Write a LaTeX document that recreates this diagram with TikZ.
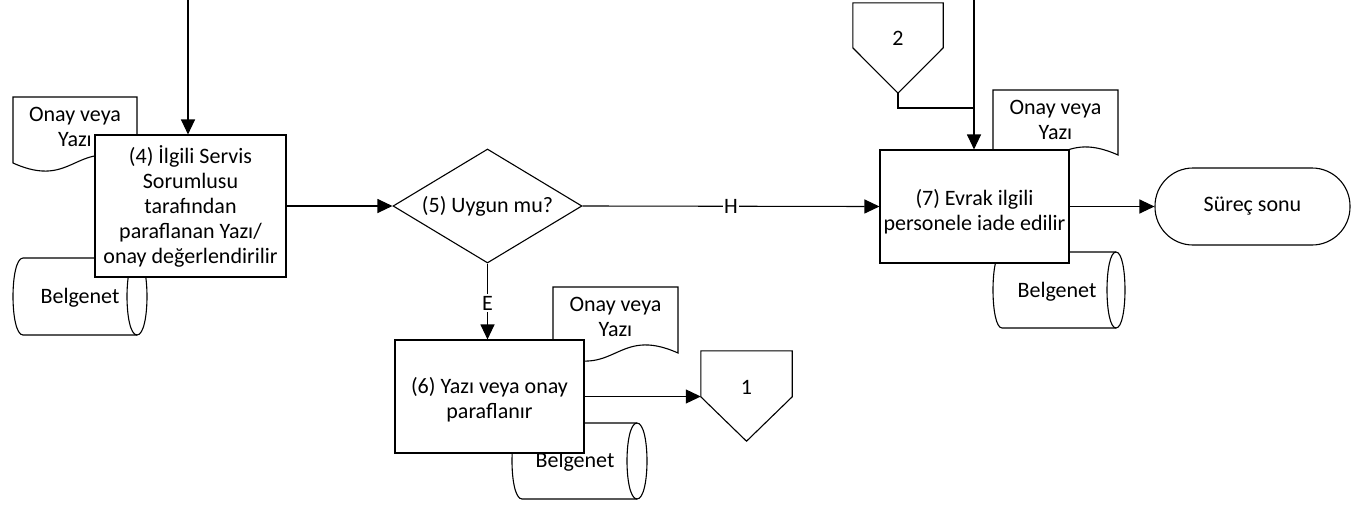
\documentclass[tikz,border=0pt]{standalone}
\usepackage{fontspec}
\setmainfont{Carlito}
\usetikzlibrary{arrows.meta,shapes.geometric,calc}
\newcommand{\drawDoc}[6]{%
  \draw[ln, fill=white] (#2,#3) -- (#2+#4,#3) -- (#2+#4,#3+#5) .. controls +(-0.5*#4,-28) and +(0.5*#4,28) .. (#2,#3+#5) -- cycle;
  \node[txt] (#1) at (#2+0.5*#4,#3+30) {#6};
}
\newcommand{\drawCyl}[9]{%
  \draw[ln, fill=white] (#2+#6,#3) -- (#2+#4-#6,#3)
     .. controls (#2+#4-#6+1.333*#6,#3) and (#2+#4-#6+1.333*#6,#3+#5) .. (#2+#4-#6,#3+#5)
     -- (#2+#6,#3+#5)
     .. controls (#2+#6-1.333*#6,#3+#5) and (#2+#6-1.333*#6,#3) .. (#2+#6,#3) -- cycle;
  \draw[ln] (#2+#4-#6,#3) .. controls (#2+#4-#6-1.333*#6,#3) and (#2+#4-#6-1.333*#6,#3+#5) .. (#2+#4-#6,#3+#5);
  \node[txt] (#1) at (#7,#8) {#9};
}
\begin{document}
\begin{tikzpicture}[x=1pt,y=-1pt,
  ln/.style={line width=1.1pt, draw=black},
  txt/.style={align=center, inner sep=0pt, font=\fontsize{22}{25}\selectfont},
  proc/.style={txt, ln, fill=white, rectangle},
  arr/.style={ln, -{Triangle[length=15pt,width=14pt]}},
  lbl/.style={fill=white, inner sep=1.5pt, font=\fontsize{22}{25}\selectfont}
]
\useasboundingbox (0,0) rectangle (1352,504);

% documents and storages (behind the process boxes)
\drawDoc{doc4}{13}{97}{124}{66}{Onay veya\\Yazı}
\drawDoc{doc6}{553}{287}{125}{66}{Onay veya\\Yazı}
\drawDoc{doc7}{993}{90}{125}{65}{Onay veya\\Yazı}
\drawCyl{cyl4}{13}{258}{134}{77}{10}{80}{298}{Belgenet}
\drawCyl{cyl6}{512}{423}{135}{76}{10}{575}{462}{Belgenet}
\drawCyl{cyl7}{993}{252}{132}{76}{9}{1057}{292}{Belgenet}

% process steps
\node[proc, minimum width=191pt, minimum height=142pt] (b4) at (190.5,206) {(4) İlgili Servis\\Sorumlusu\\tarafından\\paraflanan Yazı/\\onay değerlendirilir};
\node[txt, ln, fill=white, diamond, aspect=1.66, minimum width=189pt, minimum height=114pt] (d5) at (487.5,206) {(5) Uygun mu?};
\node[proc, minimum width=189pt, minimum height=113pt, text height=47pt] (b6) at (489.5,396.5) {(6) Yazı veya onay\\paraflanır};
\node[proc, minimum width=189pt, minimum height=113pt, text height=52pt] (b7) at (974.5,206.5) {(7) Evrak ilgili\\personele iade edilir};
\node[proc, rounded corners=38pt, minimum width=195pt, minimum height=77pt] (end) at (1252.5,206.5) {Süreç sonu};

% off-page connectors
\node[minimum width=91pt, minimum height=90pt, inner sep=0pt] (c1) at (746.5,396) {};
\draw[ln, fill=white] (c1.north west) -- (c1.north east) -- ($(c1.north east)+(0,46)$) -- (c1.south) -- ($(c1.north west)+(0,46)$) -- cycle;
\node[txt] (c1t) at ($(c1)+(0,-9)$) {1};
\node[minimum width=90pt, minimum height=90pt, inner sep=0pt] (c2) at (898,48) {};
\draw[ln, fill=white] (c2.north west) -- (c2.north east) -- ($(c2.north east)+(0,45)$) -- (c2.south) -- ($(c2.north west)+(0,45)$) -- cycle;
\node[txt] (c2t) at ($(c2)+(0,-10)$) {2};

% connectors
\coordinate (t4) at (188,0);
\coordinate (t7) at (974,0);
\coordinate (j7) at (974,108);
\draw[arr] (t4) -- (t4 |- b4.north);
\draw[arr] (t7) -- (t7 |- b7.north);
\draw[ln] (c2.south) |- (j7);
\draw[arr] (b4.east) -- (d5.west);
\draw[arr] (d5.east) -- node[lbl] {H} (b7.west);
\draw[arr] (d5.south) -- node[lbl, pos=0.52] {E} (d5.south |- b6.north);
\draw[arr] (b6.east) -- (b6.east -| c1.west);
\draw[arr] (b7.east) -- (end.west);
\end{tikzpicture}
\end{document}
